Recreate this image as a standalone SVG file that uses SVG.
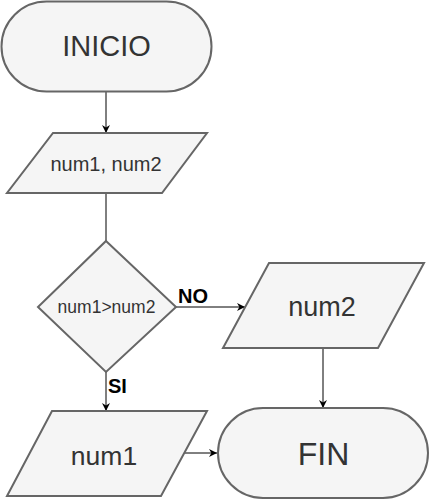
<svg xmlns="http://www.w3.org/2000/svg" width="430" height="501" viewBox="0 0 430 501">
<style>
.shape{fill:#f5f5f5;stroke:#666666;stroke-width:2}
.t{font-family:"Liberation Sans",Arial,sans-serif;fill:#333333;text-anchor:middle;dominant-baseline:central}
.edge{stroke:#000;stroke-width:1;fill:none;marker-end:url(#arr)}
.lbl{font-family:"Liberation Sans",Arial,sans-serif;font-weight:bold;font-size:20px;fill:#000}
</style>
<defs>
<marker id="arr" viewBox="0 0 10 10" refX="10" refY="5" markerWidth="8" markerHeight="8" markerUnits="userSpaceOnUse" orient="auto">
<path d="M0,0 L10,5 L0,10 L3,5 Z" fill="#000"/>
</marker>
</defs>
<rect width="430" height="501" fill="#ffffff"/>
<g id="connectors">
<line class="edge" x1="106" y1="91" x2="106" y2="133"/>
<line x1="106" y1="193" x2="106" y2="241" stroke="#000" stroke-width="1"/>
<line class="edge" x1="176" y1="307" x2="245" y2="307"/>
<line class="edge" x1="106" y1="372" x2="106" y2="411"/>
<line class="edge" x1="323" y1="348" x2="323" y2="408"/>
<line class="edge" x1="183" y1="453" x2="217" y2="453"/>
<text class="lbl" x="178" y="303">NO</text>
<text class="lbl" x="108" y="393">SI</text>
</g>
<g id="inicio">
<rect class="shape" x="1.5" y="1.5" width="210" height="90" rx="45" ry="45"/>
<text class="t" x="106.5" y="46" font-size="29">INICIO</text>
</g>
<g id="input">
<polygon class="shape" points="53,133 207,133 162,193 7,193"/>
<text class="t" x="106" y="164" font-size="20">num1, num2</text>
</g>
<g id="decision">
<polygon class="shape" points="106,241 176,307 106,372 38,307"/>
<text class="t" x="106.5" y="306.5" font-size="17.5">num1&gt;num2</text>
</g>
<g id="num2">
<polygon class="shape" points="269,263 424,263 378,348 223,348"/>
<text class="t" x="322" y="307" font-size="27">num2</text>
</g>
<g id="num1">
<polygon class="shape" points="52,411 207,411 161,496 7,496"/>
<text class="t" x="104" y="456" font-size="26.5">num1</text>
</g>
<g id="fin">
<rect class="shape" x="218" y="408" width="210" height="90" rx="45" ry="45"/>
<text class="t" x="323.5" y="454" font-size="32">FIN</text>
</g>
</svg>
